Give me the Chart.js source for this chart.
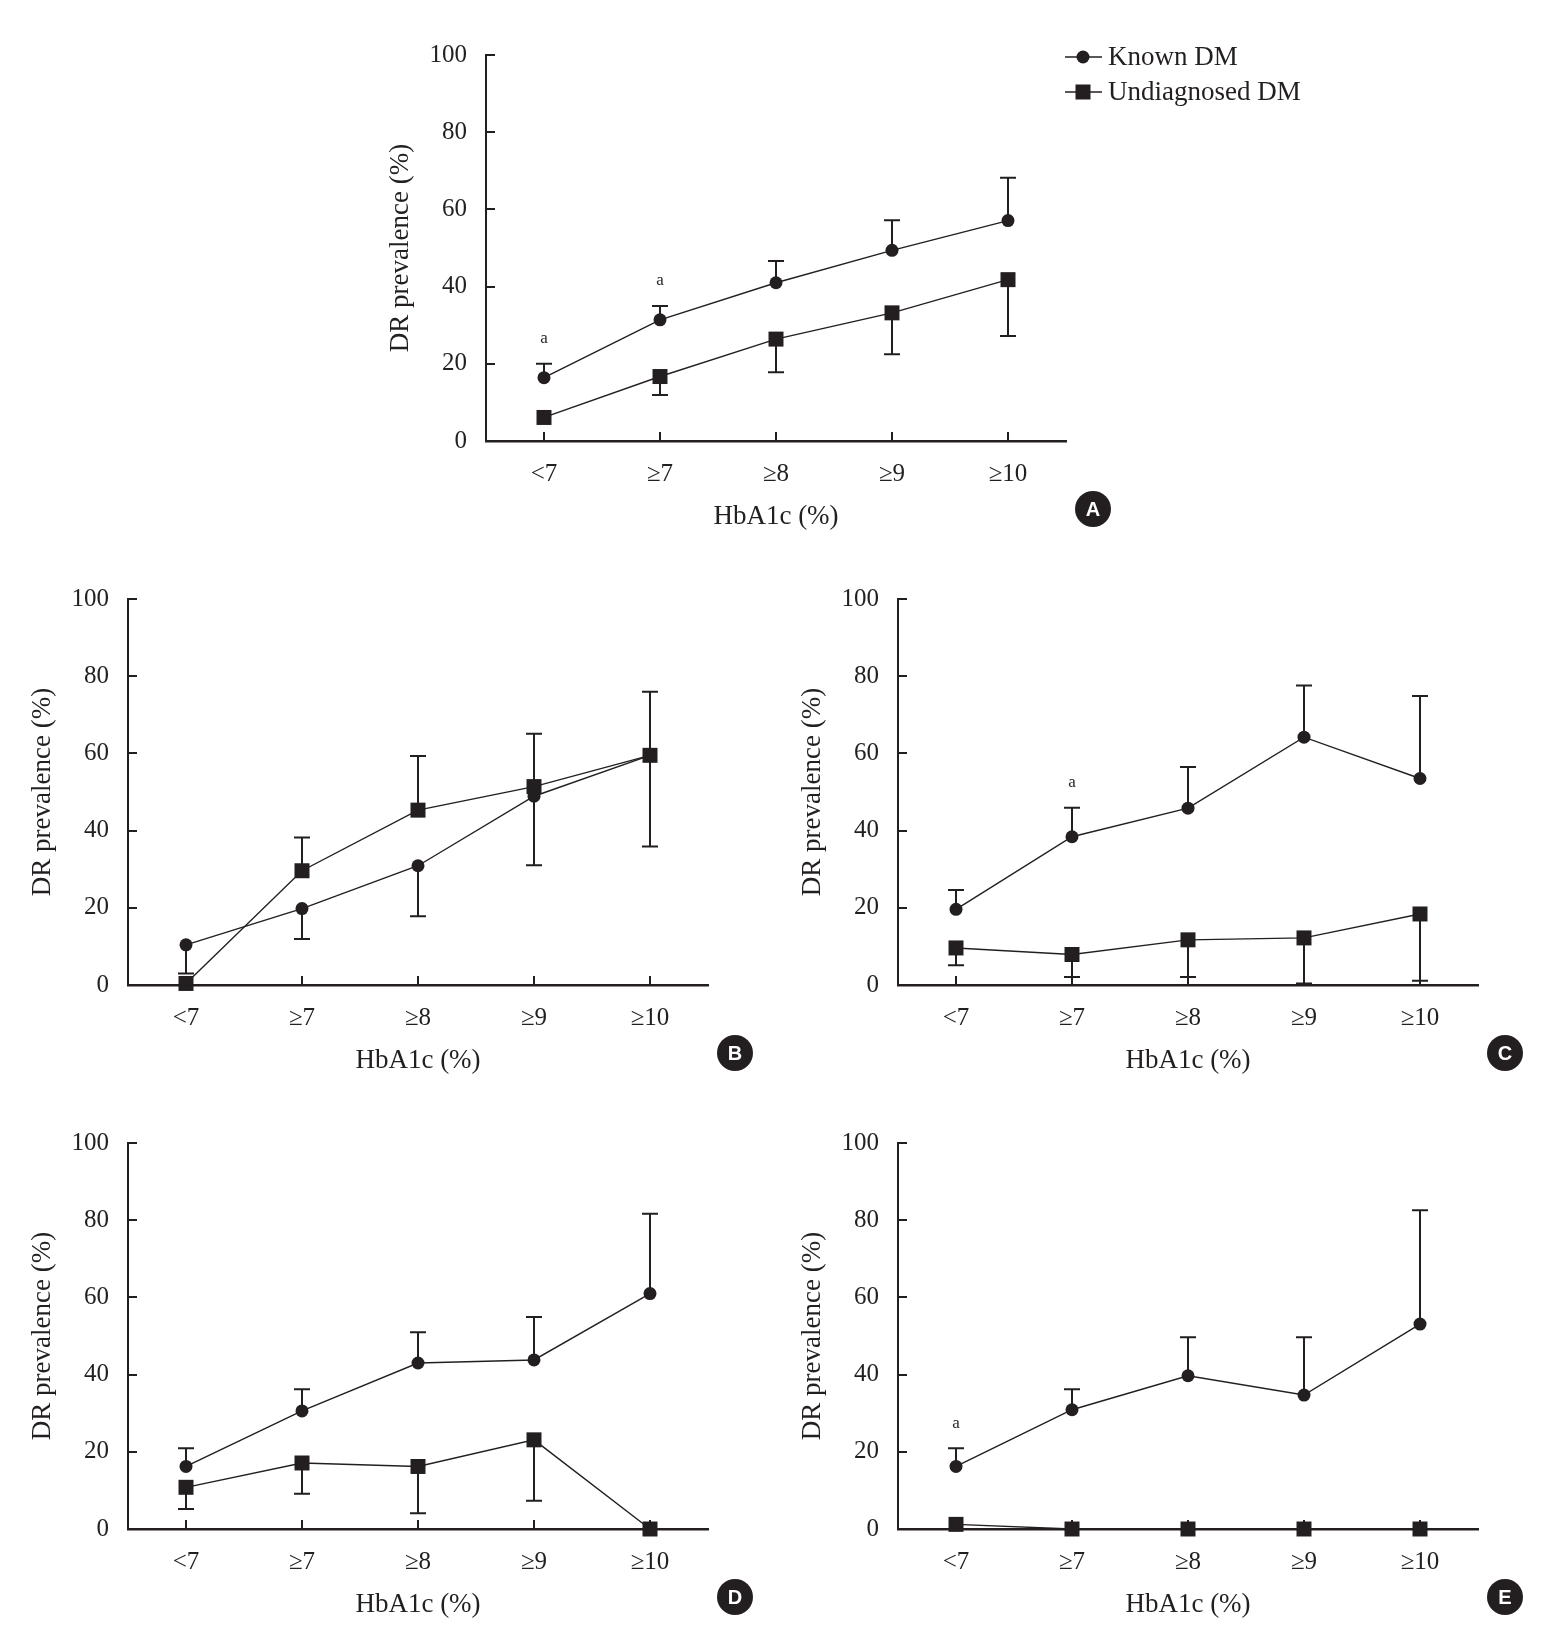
<!DOCTYPE html>
<html>
<head>
<meta charset="utf-8">
<script src="https://cdn.jsdelivr.net/npm/chart.js@4/dist/chart.umd.min.js"></script>
<style>
html,body{margin:0;padding:0;background:#ffffff;}
body{width:1549px;height:1639px;position:relative;overflow:hidden;}
.panel{position:absolute;}
canvas{display:block;}
</style>
</head>
<body>
<div class="panel" style="left:360px;top:21px"><canvas id="cA" width="1000" height="530"></canvas></div>
<div class="panel" style="left:2px;top:565px"><canvas id="cB" width="766" height="530"></canvas></div>
<div class="panel" style="left:772px;top:565px"><canvas id="cC" width="766" height="530"></canvas></div>
<div class="panel" style="left:2px;top:1109px"><canvas id="cD" width="766" height="530"></canvas></div>
<div class="panel" style="left:772px;top:1109px"><canvas id="cE" width="766" height="530"></canvas></div>
<script>
// ---------------- DATA ----------------
const categories = ['<7', '\u22657', '\u22658', '\u22659', '\u226510'];
const yTickValues = [0, 20, 40, 60, 80, 100];
const seriesNames = ['Known DM', 'Undiagnosed DM'];
const xTitle = 'HbA1c (%)';
const yTitle = 'DR prevalence (%)';

// Panel A
const knownA = [16.4, 31.4, 41.0, 49.4, 57.1];
const knownErrA = [20.0, 35.0, 46.6, 57.2, 68.2];
const undiagA = [6.1, 16.7, 26.4, 33.2, 41.8];
const undiagErrA = [null, 11.9, 17.8, 22.5, 27.2];
const annotA = ['a', 'a', '', '', ''];

// Panel B
const knownB = [10.4, 19.8, 30.9, 48.9, 59.5];
const knownErrB = [3.0, 11.9, 17.8, 31.0, 35.9];
const undiagB = [0.4, 29.6, 45.3, 51.4, 59.5];
const undiagErrB = [null, 38.2, 59.3, 65.1, 76.0];
const annotB = ['', '', '', '', ''];

// Panel C
const knownC = [19.6, 38.4, 45.8, 64.2, 53.5];
const knownErrC = [24.6, 45.9, 56.5, 77.6, 74.9];
const undiagC = [9.6, 7.9, 11.7, 12.2, 18.4];
const undiagErrC = [5.1, 2.1, 2.1, 0.4, 1.1];
const annotC = ['', 'a', '', '', ''];

// Panel D
const knownD = [16.2, 30.6, 43.0, 43.8, 61.0];
const knownErrD = [20.9, 36.2, 51.0, 54.9, 81.7];
const undiagD = [10.8, 17.1, 16.2, 23.1, 0];
const undiagErrD = [5.2, 9.1, 4.1, 7.3, null];
const annotD = ['', '', '', '', ''];

// Panel E
const knownE = [16.2, 30.9, 39.7, 34.7, 53.1];
const knownErrE = [20.9, 36.2, 49.7, 49.7, 82.6];
const undiagE = [1.2, 0, 0, 0, 0];
const undiagErrE = [null, null, null, null, null];
const annotE = ['a', '', '', '', ''];

// ---------------- STYLE ----------------
const INK = '#231f20';
const SERIF = "'Liberation Serif', 'Times New Roman', 'DejaVu Serif', serif";
const SANS = "'Liberation Sans', Arial, 'DejaVu Sans', sans-serif";
Chart.defaults.font.family = SERIF;
Chart.defaults.color = INK;

const decorPlugin = {
  id: 'decor',
  beforeDatasetsDraw(chart) {
    const ctx = chart.ctx;
    const xs = chart.scales.x, ys = chart.scales.y;
    const ca = chart.chartArea;
    ctx.save();
    ctx.strokeStyle = INK;
    // inward tick marks
    ctx.lineWidth = 2;
    ctx.beginPath();
    yTickValues.forEach(v => {
      if (v === 0) return;
      const py = Math.round(ys.getPixelForValue(v));
      ctx.moveTo(ca.left, py);
      ctx.lineTo(ca.left + 9, py);
    });
    categories.forEach((c, i) => {
      const px = Math.round(xs.getPixelForValue(i));
      ctx.moveTo(px, ca.bottom);
      ctx.lineTo(px, ca.bottom - 9);
    });
    ctx.stroke();
    // error bars
    ctx.lineWidth = 2;
    chart.data.datasets.forEach((ds, di) => {
      const meta = chart.getDatasetMeta(di);
      (ds.errEnds || []).forEach((e, j) => {
        if (e === null || e === undefined) return;
        const pt = meta.data[j];
        const ye = ys.getPixelForValue(e);
        ctx.beginPath();
        ctx.moveTo(pt.x, pt.y);
        ctx.lineTo(pt.x, ye);
        ctx.moveTo(pt.x - 8, ye);
        ctx.lineTo(pt.x + 8, ye);
        ctx.stroke();
      });
    });
    ctx.restore();
  },
  afterDraw(chart) {
    const ctx = chart.ctx;
    const xs = chart.scales.x, ys = chart.scales.y;
    const ca = chart.chartArea;
    const cfg = chart.options.plugins.decor;
    ctx.save();
    // "a" annotations above Known DM error caps
    ctx.fillStyle = INK;
    ctx.font = '17px ' + SERIF;
    ctx.textAlign = 'center';
    ctx.textBaseline = 'middle';
    const ds0 = chart.data.datasets[0];
    (cfg.annot || []).forEach((t, j) => {
      if (!t) return;
      const top = ds0.errEnds[j] != null ? Math.max(ds0.errEnds[j], ds0.data[j]) : ds0.data[j];
      ctx.fillText(t, xs.getPixelForValue(j), ys.getPixelForValue(top) - 25);
    });
    // panel letter
    const lx = ca.right + 27, ly = ca.bottom + 68;
    ctx.beginPath();
    ctx.arc(lx, ly, 18, 0, Math.PI * 2);
    ctx.fillStyle = INK;
    ctx.fill();
    ctx.fillStyle = '#ffffff';
    ctx.font = 'bold 20px ' + SANS;
    ctx.textAlign = 'center';
    ctx.textBaseline = 'middle';
    ctx.fillText(cfg.letter, lx, ly + 1);
    // legend
    if (cfg.legend) {
      const x0 = ca.right - 1, x1 = ca.right + 36, mx = ca.right + 17;
      const rows = [ca.top + 2, ca.top + 37];
      ctx.strokeStyle = INK;
      ctx.fillStyle = INK;
      ctx.lineWidth = 1.6;
      rows.forEach((ry, k) => {
        ctx.beginPath();
        ctx.moveTo(x0, ry);
        ctx.lineTo(x1, ry);
        ctx.stroke();
        ctx.beginPath();
        if (k === 0) {
          ctx.arc(mx, ry, 6.5, 0, Math.PI * 2);
          ctx.fill();
        } else {
          ctx.fillRect(mx - 7.5, ry - 7.5, 15, 15);
        }
        ctx.font = '27px ' + SERIF;
        ctx.textAlign = 'left';
        ctx.textBaseline = 'middle';
        ctx.fillText(seriesNames[k], ca.right + 42, ry + 1);
      });
    }
    ctx.restore();
  }
};

function makePanel(id, known, knownErr, undiag, undiagErr, annot, letter, padRight, legend) {
  const ctx = document.getElementById(id).getContext('2d');
  return new Chart(ctx, {
    type: 'line',
    data: {
      labels: categories,
      datasets: [
        {
          label: seriesNames[0], data: known, errEnds: knownErr,
          borderColor: INK, backgroundColor: INK, borderWidth: 1.4,
          pointStyle: 'circle', pointRadius: 6.5, pointBorderWidth: 0,
          pointBackgroundColor: INK, tension: 0, clip: false
        },
        {
          label: seriesNames[1], data: undiag, errEnds: undiagErr,
          borderColor: INK, backgroundColor: INK, borderWidth: 1.4,
          pointStyle: 'rect', pointRadius: 10.6, pointBorderWidth: 0,
          pointBackgroundColor: INK, tension: 0, clip: false
        }
      ]
    },
    options: {
      responsive: false,
      animation: false,
      events: [],
      layout: { padding: { left: 0, top: 30, right: padRight, bottom: 0 } },
      plugins: {
        legend: { display: false },
        tooltip: { enabled: false },
        decor: { annot: annot, letter: letter, legend: legend }
      },
      scales: {
        x: {
          type: 'category',
          offset: true,
          grid: { display: false, drawTicks: false },
          border: { display: true, width: 2.5, color: INK },
          ticks: { font: { size: 25, family: SERIF }, color: INK, padding: 18, maxRotation: 0 },
          title: { display: true, text: xTitle, font: { size: 27, family: SERIF }, color: INK, padding: { top: 0, bottom: 18 } },
          afterFit(s) { s.height = 110; }
        },
        y: {
          type: 'linear',
          min: 0, max: 100,
          grid: { display: false, drawTicks: false },
          border: { display: true, width: 2, color: INK },
          ticks: { stepSize: 20, font: { size: 25, family: SERIF }, color: INK, padding: 19 },
          title: { display: true, text: yTitle, font: { size: 27, family: SERIF }, color: INK, padding: { top: 25, bottom: 0 } },
          afterFit(s) { s.width = 126; }
        }
      }
    },
    plugins: [decorPlugin]
  });
}

makePanel('cA', knownA, knownErrA, undiagA, undiagErrA, annotA, 'A', 294, true);
makePanel('cB', knownB, knownErrB, undiagB, undiagErrB, annotB, 'B', 60, false);
makePanel('cC', knownC, knownErrC, undiagC, undiagErrC, annotC, 'C', 60, false);
makePanel('cD', knownD, knownErrD, undiagD, undiagErrD, annotD, 'D', 60, false);
makePanel('cE', knownE, knownErrE, undiagE, undiagErrE, annotE, 'E', 60, false);
</script>
</body>
</html>
